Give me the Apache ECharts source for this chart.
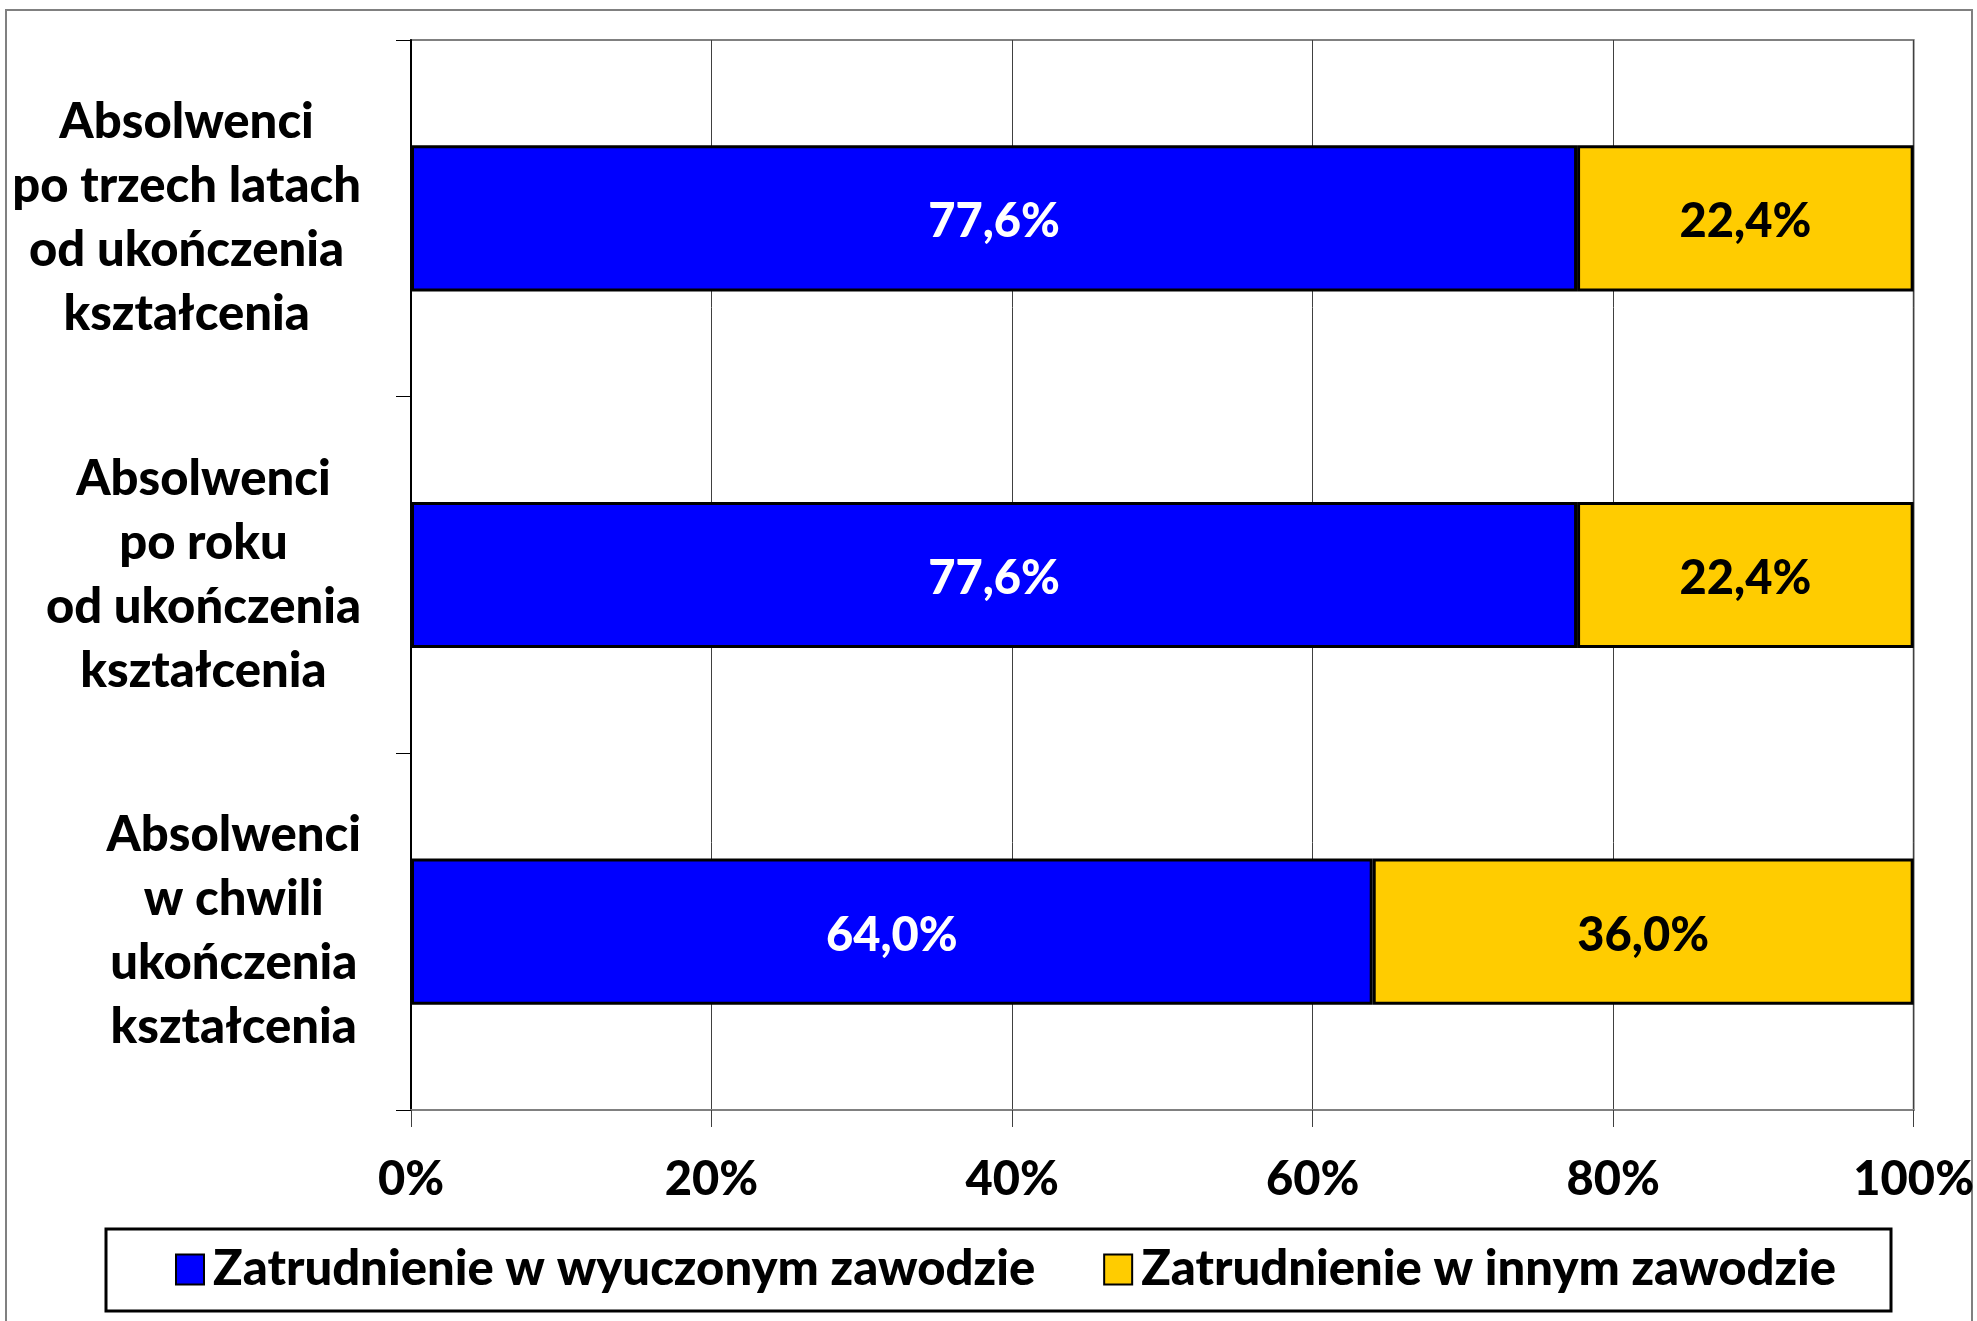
<!DOCTYPE html>
<html>
<head>
<meta charset="utf-8">
<script src="https://cdn.jsdelivr.net/npm/echarts@6/dist/echarts.min.js"></script>
<style>
	html,body{margin:0;padding:0;background:#fff;}
	#chart{width:1977px;height:1321px;}
</style>
</head>
<body>
<div id="chart"></div>
<script>
// dane z wykresu
var categories = [
	'Absolwenci\npo trzech latach\nod ukończenia\nkształcenia',
	'Absolwenci\npo roku\nod ukończenia\nkształcenia',
	'Absolwenci\nw chwili\nukończenia\nkształcenia'
]
var seriesNames = ['Zatrudnienie w wyuczonym zawodzie', 'Zatrudnienie w innym zawodzie']
var wyuczony = [77.6, 77.6, 64.0]
var inny = [22.4, 22.4, 36.0]
var xTicks = [0, 20, 40, 60, 80, 100]

var FONT = 'Lato'
var W = 900
var chart = echarts.init(document.getElementById('chart'))

function pct(p){
	return p.value.toFixed(1).replace('.', ',') + '%'
}

var option = {
	backgroundColor: '#fff',
	animation: false,
	textStyle: {fontFamily: FONT},
	grid: {
		left: 411, right: 63, top: 40, bottom: 211,
		show: true, borderColor: '#808080', borderWidth: 2
	},
	xAxis: {
		type: 'value',
		min: xTicks[0], max: xTicks[xTicks.length - 1], interval: 20,
		axisLine: {show: true, lineStyle: {color: '#808080', width: 2}},
		axisTick: {show: true, length: 17, lineStyle: {color: '#404040'}},
		splitLine: {show: true, lineStyle: {color: '#404040', width: 1}},
		axisLabel: {
			margin: 46, color: '#000', fontSize: 47, fontWeight: W, fontFamily: FONT,
			formatter: '{value}%'
		}
	},
	yAxis: {
		type: 'category',
		inverse: true,
		data: categories,
		axisLine: {show: true, lineStyle: {color: '#000', width: 2}},
		axisTick: {show: true, length: 15, lineStyle: {color: '#000'}},
		splitLine: {show: false},
		axisLabel: {
			margin: 50,
			formatter: function(v){
				return v.split('\n').map(function(s){ return '{l|' + s + '}' }).join('\n')
			},
			rich: {
				l: {align: 'center', color: '#000', fontSize: 49, fontWeight: W, fontFamily: FONT, lineHeight: 64}
			}
		}
	},
	legend: {
		left: 170, top: 1240,
		itemWidth: 28, itemHeight: 30, itemGap: 68,
		icon: 'rect',
		textStyle: {fontSize: 49, fontWeight: W, color: '#000', fontFamily: FONT, padding: [0, 0, 0, 4]},
		data: seriesNames
	},
	graphic: [
		{type: 'rect', shape: {x: 6, y: 10, width: 1966, height: 1400}, style: {fill: 'none', stroke: '#808080', lineWidth: 2}, silent: true, z: -1},
		{type: 'rect', shape: {x: 106, y: 1229, width: 1785, height: 82}, style: {fill: 'none', stroke: '#000', lineWidth: 3}, silent: true}
	],
	series: [
		{
			name: seriesNames[0],
			type: 'bar',
			stack: 'all',
			barCategoryGap: '59%',
			data: wyuczony,
			itemStyle: {color: '#0000FF', borderColor: '#000', borderWidth: 3},
			label: {show: true, position: 'inside', offset: [0, 4], color: '#fff', fontSize: 47, fontWeight: W, fontFamily: FONT, formatter: pct}
		},
		{
			name: seriesNames[1],
			type: 'bar',
			stack: 'all',
			data: inny,
			itemStyle: {color: '#FFCC00', borderColor: '#000', borderWidth: 3},
			label: {show: true, position: 'inside', offset: [0, 4], color: '#000', fontSize: 47, fontWeight: W, fontFamily: FONT, formatter: pct}
		}
	]
}
chart.setOption(option)
</script>
</body>
</html>
